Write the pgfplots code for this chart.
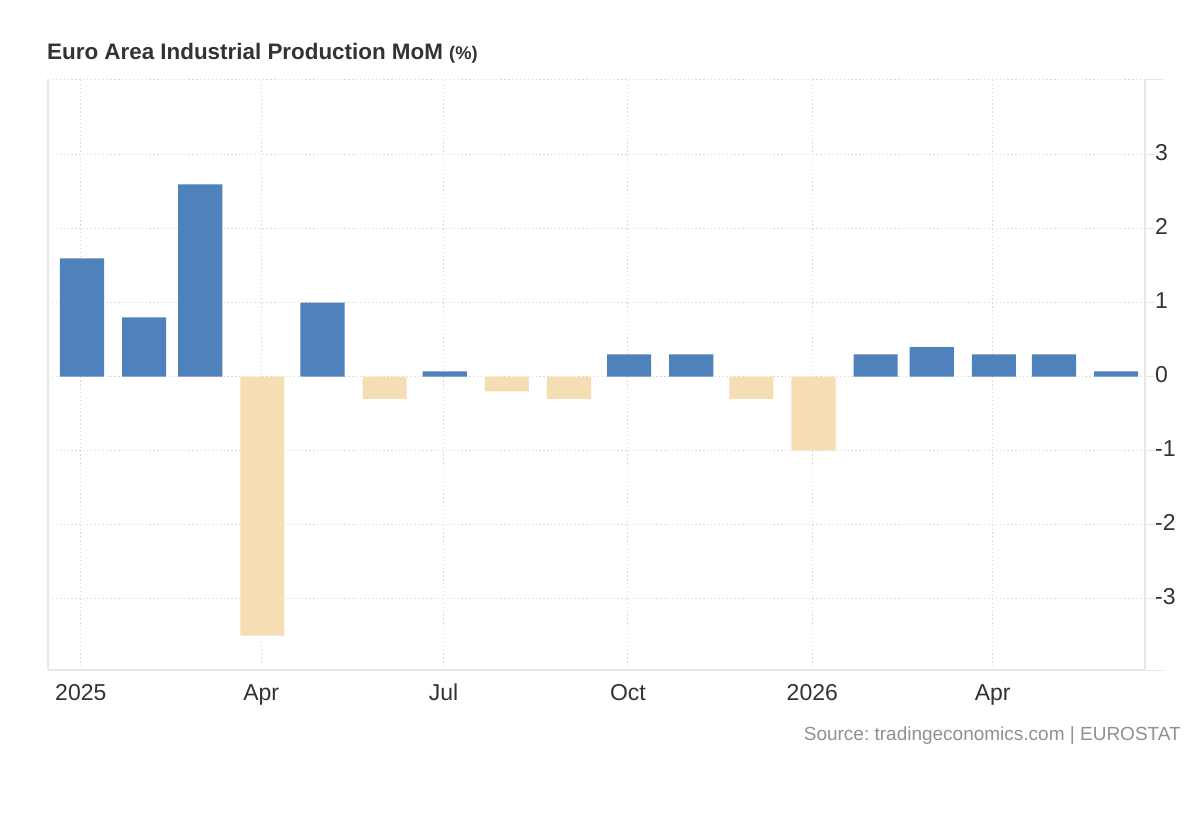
\documentclass[border=0pt]{standalone}
\usepackage{pgfplots}
\usepackage{pgfplotstable}
\pgfplotsset{compat=1.18}
\usepackage{fontspec}
\setmainfont{Liberation Sans}
\frenchspacing
\definecolor{barblue}{HTML}{4F81BD}
\definecolor{barneg}{HTML}{F5DEB3}
\definecolor{gridc}{HTML}{D8D8D8}
\definecolor{axisc}{HTML}{E6E6E6}
\definecolor{txt}{HTML}{333333}
\definecolor{srcc}{HTML}{909090}

% x = days since 2025-01-01 (month start)
\pgfplotstableread{
x y
0 1.6
31 0.8
59 2.6
120 1.0
181 0.07
273 0.3
304 0.3
396 0.3
424 0.4
455 0.3
485 0.3
516 0.07
}\posdata
\pgfplotstableread{
x y
90 -3.5
151 -0.3
212 -0.2
243 -0.3
334 -0.3
365 -1.0
}\negdata

\begin{document}
\begin{tikzpicture}
\useasboundingbox[fill=white] (0pt,0pt) rectangle (1200pt,820pt);
\node[anchor=base west, inner sep=0, text=txt] at (47pt,760pt) {\fontsize{22.4}{26}\selectfont\bfseries Euro Area Industrial Production MoM \fontsize{18.3}{21}\selectfont(\%)};
\node[anchor=base east, inner sep=0, text=srcc] at (1181pt,80pt) {\fontsize{19}{23}\selectfont Source: tradingeconomics.com | EUROSTAT};
\begin{axis}[
  at={(48pt,149.7pt)}, anchor=south west, scale only axis,
  width=1097pt, height=591pt,
  xmin=-16.97, xmax=530.4, ymin=-3.97, ymax=4.02,
  axis line style={draw=none},
  xtick={-0.6,89.4,180.4,272.4,364.4,454.4},
  xticklabels={2025,Apr,Jul,Oct,2026,Apr},
  ytick={-3,-2,-1,0,1,2,3},
  ytick pos=right, yticklabel pos=right,
  tick align=outside, major tick length=10pt,
  xtick style={draw=none},
  ytick style={axisc, line width=1pt},
  grid=major,
  major grid style={gridc, line width=1pt, dash pattern=on 1.3pt off 2.6pt},
  /pgf/number format/assume math mode=true,
  xticklabel style={anchor=base, inner sep=0pt, yshift=-20pt, text=txt, font=\fontsize{23}{27}\selectfont},
  yticklabel style={anchor=base west, inner sep=0pt, xshift=0pt, yshift=-5.5pt, text=txt, font=\fontsize{23}{27}\selectfont},
  clip=false,
]
\addplot[ybar, bar width=22, bar shift=0pt, fill=barblue, draw=none] table[x=x,y=y] {\posdata};
\addplot[ybar, bar width=22, bar shift=0pt, fill=barneg, draw=none] table[x=x,y=y] {\negdata};
\draw[gridc, line width=1pt, dash pattern=on 1.3pt off 2.6pt] (rel axis cs:0,1) -- (rel axis cs:1,1);
\draw[axisc, line width=1.3pt] (rel axis cs:0,0) -- (rel axis cs:0,1);
\draw[axisc, line width=2pt] (rel axis cs:0,0) -- (rel axis cs:1,0);
\draw[axisc, line width=1.5pt] (rel axis cs:1,0) -- (rel axis cs:1,1);
\draw[axisc, line width=1pt] (rel axis cs:1,1) -- ++(19pt,0pt);
\draw[axisc, line width=1pt] (rel axis cs:1,0) -- ++(19pt,0pt);
\end{axis}
\end{tikzpicture}
\end{document}
